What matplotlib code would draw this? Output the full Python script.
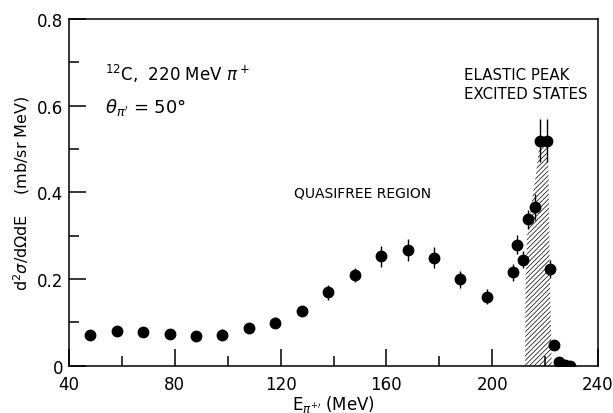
import numpy as np
import matplotlib
matplotlib.use('Agg')
import matplotlib.pyplot as plt

# pi+ energy (MeV), cross section (mb/sr MeV), error
E_PI = [48, 58, 68, 78, 88, 98, 108, 118, 128, 138, 148, 158, 168, 178, 188, 198,
        208, 209.5, 211.8, 213.7, 216.2, 218.1, 220.6, 221.9, 223.4, 225.2, 227.5, 229.4]
XSEC = [0.071, 0.079, 0.078, 0.073, 0.068, 0.071, 0.087, 0.099, 0.125, 0.169, 0.209, 0.252,
        0.267, 0.249, 0.199, 0.159, 0.215, 0.279, 0.244, 0.338, 0.366, 0.519, 0.519, 0.223,
        0.048, 0.008, 0.002, 0.0]
ERR = [0.008, 0.008, 0.009, 0.012, 0.01, 0.013, 0.01, 0.013, 0.01, 0.017, 0.016, 0.025,
       0.025, 0.025, 0.02, 0.017, 0.02, 0.022, 0.02, 0.022, 0.03, 0.05, 0.05, 0.02,
       0.0, 0.0, 0.0, 0.0]

# hatched elastic peak / excited states band
BAND_E = [212.4, 212.6, 213.2, 214.5, 216.5, 218.0, 221.0, 221.4, 221.8, 222.5]
BAND_Y = [0.0, 0.2, 0.3, 0.36, 0.44, 0.52, 0.52, 0.4, 0.2, 0.0]

plt.rcParams['font.family'] = 'DejaVu Sans'
plt.rcParams['hatch.linewidth'] = 0.5

fig = plt.figure(figsize=(6.13, 4.14), dpi=100)
ax = fig.add_axes([0.1126, 0.1147, 0.863, 0.837])

ax.fill(BAND_E, BAND_Y, facecolor='none', edgecolor='black', hatch='///////', linewidth=0)
ax.errorbar(E_PI, XSEC, yerr=ERR, fmt='o', color='black', markersize=7.5,
            elinewidth=1.0, capsize=0)

ax.set_xlim(40, 240)
ax.set_ylim(0, 0.8)
ax.set_xticks([40, 80, 120, 160, 200, 240])
ax.set_xticks([60, 100, 140, 180, 220], minor=True)
ax.set_yticks([0, 0.2, 0.4, 0.6, 0.8])
ax.set_yticklabels(['0', '0.2', '0.4', '0.6', '0.8'])
ax.set_yticks([0.1, 0.3, 0.5, 0.7], minor=True)
ax.tick_params(which='major', direction='in', length=12, width=1.1, labelsize=12,
               top=False, right=False)
ax.tick_params(which='minor', direction='in', length=7, width=1.1, top=False, right=False)
ax.tick_params(axis='x', which='major', pad=6.5)
ax.tick_params(axis='y', which='major', pad=4)
for s in ax.spines.values():
    s.set_linewidth(1.1)

ax.text(53.5, 0.66, r'$^{12}$C,  220 MeV $\pi^+$', fontsize=12)
ax.text(53.5, 0.585, r"$\theta_{\pi'}$ = 50$\degree$", fontsize=13)
ax.text(151, 0.40, 'QUASIFREE REGION', fontsize=10, ha='center', va='center')
ax.text(189.5, 0.672, 'ELASTIC PEAK', fontsize=10.8, va='center')
ax.text(189.5, 0.628, 'EXCITED STATES', fontsize=10.8, va='center')

ax.set_xlabel(r"E$_{\pi^{+\prime}}$ (MeV)", fontsize=12, labelpad=0)
ax.set_ylabel(r'd$^2\sigma$/d$\Omega$dE    (mb/sr MeV)', fontsize=11.5, labelpad=4)

fig.savefig('out.png', dpi=100)
